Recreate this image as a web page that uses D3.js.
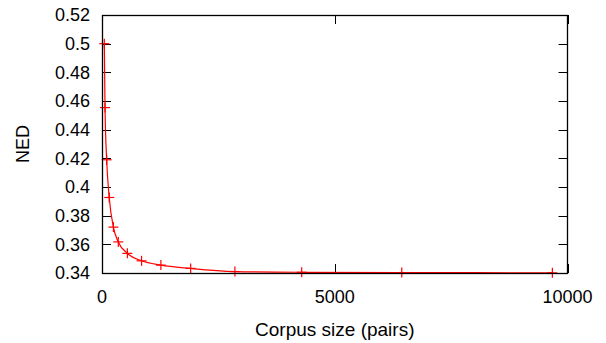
<!DOCTYPE html>
<html>
<head>
<meta charset="utf-8">
<script src="https://cdn.jsdelivr.net/npm/d3@7"></script>
<style>
  html, body { margin: 0; padding: 0; background: #fff; }
  text { font-family: "Liberation Sans", Arial, Helvetica, sans-serif; fill: #000; }
</style>
</head>
<body>
<svg id="chart" width="606" height="343"></svg>
<script>
const corpusSize = [50, 65, 100, 155, 245, 350, 545, 850, 1265, 1905, 2855, 4290, 6440, 9675];
const nedValues  = [0.5, 0.4554, 0.419, 0.3927, 0.372, 0.3617, 0.3537, 0.3485, 0.3455, 0.3432, 0.341, 0.3405, 0.3403, 0.3401];
const xTicks = [0, 5000, 10000];
const yTicks = [0.34, 0.36, 0.38, 0.4, 0.42, 0.44, 0.46, 0.48, 0.5, 0.52];
const xTitle = "Corpus size (pairs)";
const yTitle = "NED";

(function () {
const svg = d3.select("#chart");
const pL = 102, pR = 567.5, pT = 15, pB = 273;
const x = d3.scaleLinear().domain([0, 10000]).range([pL, pR]);
const y = d3.scaleLinear().domain([0.34, 0.52]).range([pB, pT]);
const fs = 18;
const tickLen = 9;

// ticks (inward, mirrored)
const ax = svg.append("g").attr("stroke", "#000").attr("stroke-width", 1);
yTicks.forEach(v => {
  const yy = Math.round(y(v)) + 0.5;
  ax.append("line").attr("x1", pL).attr("x2", pL + tickLen).attr("y1", yy).attr("y2", yy);
  ax.append("line").attr("x1", pR).attr("x2", pR - tickLen).attr("y1", yy).attr("y2", yy);
});
xTicks.forEach(v => {
  const xx = Math.round(x(v)) + 0.5;
  ax.append("line").attr("x1", xx).attr("x2", xx).attr("y1", pB).attr("y2", pB - tickLen);
  ax.append("line").attr("x1", xx).attr("x2", xx).attr("y1", pT).attr("y2", pT + tickLen);
});

// tick labels
svg.append("g").selectAll("text").data(yTicks).join("text")
  .attr("x", 90).attr("y", d => y(d)).attr("dy", "0.35em")
  .attr("text-anchor", "end").attr("font-size", fs)
  .text(d => String(+d.toFixed(2)));
svg.append("g").selectAll("text").data(xTicks).join("text")
  .attr("x", d => x(d)).attr("y", 303)
  .attr("text-anchor", "middle").attr("font-size", fs)
  .text(d => d);

// titles
svg.append("text").attr("x", (pL + pR) / 2).attr("y", 336)
  .attr("text-anchor", "middle").attr("font-size", 19).text(xTitle);
svg.append("text").attr("transform", `translate(29,${(pT + pB) / 2}) rotate(-90)`)
  .attr("text-anchor", "middle").attr("font-size", fs).text(yTitle);

// data
const pts = corpusSize.map((c, i) => [c, nedValues[i]]);
const line = d3.line().x(d => x(d[0])).y(d => y(d[1])).curve(d3.curveMonotoneX);
svg.append("path").datum(pts).attr("d", line)
  .attr("fill", "none").attr("stroke", "#ff0000").attr("stroke-width", 1.2);

const m = 5;
const mk = svg.append("g").attr("stroke", "#ff0000").attr("stroke-width", 1.2);
pts.forEach(d => {
  const px = x(d[0]), py = y(d[1]);
  mk.append("line").attr("x1", px - m).attr("x2", px + m).attr("y1", py).attr("y2", py);
  mk.append("line").attr("x1", px).attr("x2", px).attr("y1", py - m).attr("y2", py + m);
});

// border
svg.append("rect").attr("x", pL + 0.5).attr("y", pT + 0.5)
  .attr("width", pR - pL - 0.5).attr("height", pB - pT)
  .attr("fill", "none").attr("stroke", "#000").attr("stroke-width", 1.3);
})();
</script>
</body>
</html>
